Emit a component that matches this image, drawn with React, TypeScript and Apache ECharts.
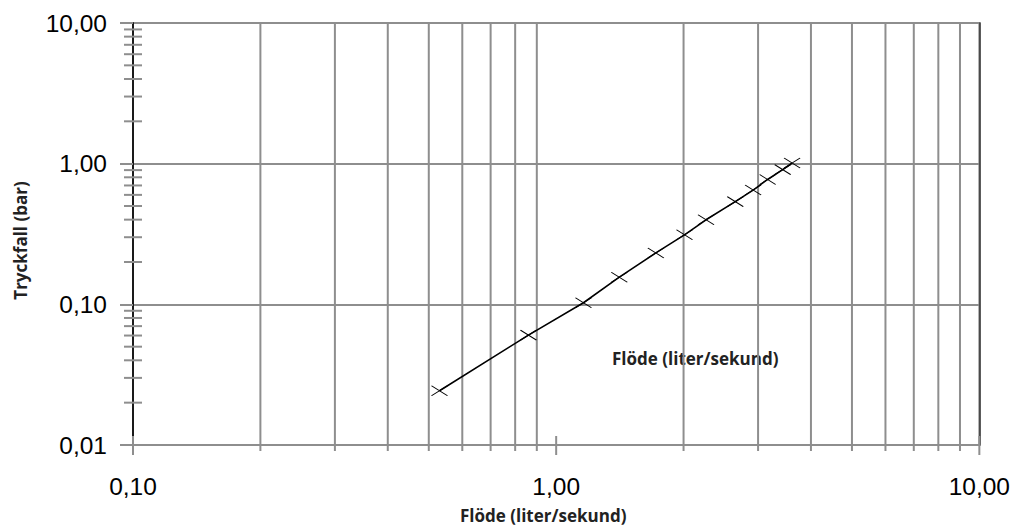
import React, { useEffect, useRef } from "react";
import * as echarts from "echarts";

// Data
const flowValues = [0.53, 0.86, 1.16, 1.41, 1.72, 2.01, 2.26, 2.65, 2.92, 3.16, 3.43, 3.61];
const pressureValues = [0.0243, 0.0604, 0.1026, 0.156, 0.232, 0.312, 0.399, 0.537, 0.649, 0.772, 0.907, 1.01];

// Axis ranges and tick positions
const xRange = [0.1, 10];
const yRange = [0.01, 10];
const xMinorGrid = [0.2, 0.3, 0.4, 0.5, 0.6, 0.7, 0.8, 0.9, 2, 3, 4, 5, 6, 7, 8, 9];
const xMajorTicks = [0.1, 1, 10];
const yMinorTicks = [
  0.02, 0.03, 0.04, 0.05, 0.06, 0.07, 0.08, 0.09,
  0.2, 0.3, 0.4, 0.5, 0.6, 0.7, 0.8, 0.9,
  2, 3, 4, 5, 6, 7, 8, 9,
];

const xTitle = "Flöde (liter/sekund)";
const yTitle = "Tryckfall (bar)";
const innerNote = "Flöde (liter/sekund)";

const GRID_GRAY = "#8e8e8e";
const fmt = (v: number) => Number(v).toFixed(2).replace(".", ",");

export default function App() {
  const ref = useRef<HTMLDivElement>(null);

  useEffect(() => {
    if (!ref.current) return;
    const chart = echarts.init(ref.current, undefined, { renderer: "svg" });

    const labelFont = {
      fontFamily: "'Liberation Sans', Arial, sans-serif",
      fontSize: 24.5,
      color: "#000",
    };
    const nameFont = {
      fontFamily: "'Open Sans', 'Noto Sans', sans-serif",
      fontWeight: "bold" as const,
      fontSize: 17,
      color: "#222",
    };

    chart.setOption({
      animation: false,
      backgroundColor: "#fff",
      grid: {
        left: 133,
        right: 32,
        top: 23,
        bottom: 82,
        show: true,
        borderColor: GRID_GRAY,
        borderWidth: 2,
        backgroundColor: "transparent",
      },
      xAxis: {
        type: "log",
        logBase: 10,
        min: xRange[0],
        max: xRange[1],
        name: xTitle,
        nameLocation: "middle",
        nameGap: 62,
        nameTextStyle: { ...nameFont, padding: [0, 26, 0, 0] },
        axisLine: { show: true, lineStyle: { color: GRID_GRAY, width: 2 } },
        axisTick: { show: false },
        axisLabel: { ...labelFont, margin: 29, formatter: fmt },
        splitLine: { show: false },
        minorTick: { show: false },
        minorSplitLine: { show: false },
      },
      yAxis: [
        {
          type: "log",
          logBase: 10,
          min: yRange[0],
          max: yRange[1],
          name: yTitle,
          nameLocation: "middle",
          nameRotate: 90,
          nameGap: 104,
          nameTextStyle: { ...nameFont, padding: [0, 13, 0, 0] },
          axisLine: { show: true, lineStyle: { color: "#1a1a1a", width: 2 } },
          axisTick: { show: true, length: 13, lineStyle: { color: GRID_GRAY, width: 2 } },
          axisLabel: { ...labelFont, margin: 26, formatter: fmt },
          splitLine: { show: true, lineStyle: { color: GRID_GRAY, width: 2 } },
          minorTick: { show: false },
        },
        {
          type: "log",
          logBase: 10,
          min: yRange[0],
          max: yRange[1],
          position: "right",
          axisLine: { show: true, lineStyle: { color: "#333", width: 1.5 } },
          axisTick: { show: false },
          axisLabel: { show: false },
          splitLine: { show: false },
        },
      ],
      graphic: [
        {
          type: "text",
          left: 612,
          top: 350,
          style: {
            text: innerNote,
            fill: "#222",
            font: "bold 17px 'Open Sans', 'Noto Sans', sans-serif",
          },
        },
      ],
      series: [
        {
          type: "custom",
          name: "xgrid",
          silent: true,
          z: 1,
          data: xMinorGrid.map((v) => [v, yRange[0]]),
          renderItem: (params: any, api: any) => {
            const x = api.value(0);
            const top = api.coord([x, yRange[1]]);
            const bot = api.coord([x, yRange[0]]);
            return {
              type: "line",
              shape: { x1: top[0], y1: top[1], x2: bot[0], y2: bot[1] + 6 },
              style: { stroke: GRID_GRAY, lineWidth: 2 },
            };
          },
        },
        {
          type: "custom",
          name: "xmajor",
          silent: true,
          z: 1,
          data: xMajorTicks.map((v) => [v, yRange[0]]),
          renderItem: (params: any, api: any) => {
            const x = api.value(0);
            const bot = api.coord([x, yRange[0]]);
            return {
              type: "line",
              shape: { x1: bot[0], y1: bot[1] - 9, x2: bot[0], y2: bot[1] + 10 },
              style: { stroke: GRID_GRAY, lineWidth: 2 },
            };
          },
        },
        {
          type: "custom",
          name: "yminor",
          silent: true,
          z: 3,
          data: yMinorTicks.map((v) => [xRange[0], v]),
          renderItem: (params: any, api: any) => {
            const p = api.coord([xRange[0], api.value(1)]);
            return {
              type: "line",
              shape: { x1: p[0] - 9, y1: p[1], x2: p[0] + 9, y2: p[1] },
              style: { stroke: GRID_GRAY, lineWidth: 2 },
            };
          },
        },
        {
          type: "line",
          name: "Tryckfall",
          z: 5,
          data: flowValues.map((f, i) => [f, pressureValues[i]]),
          symbol: "path://M0,0L16,10M16,0L0,10",
          symbolSize: [16, 10],
          showSymbol: true,
          itemStyle: { color: "transparent", borderColor: "#000", borderWidth: 1 },
          lineStyle: { color: "#000", width: 1.6 },
        },
      ],
    });

    return () => chart.dispose();
  }, []);

  return (
    <div
      ref={ref}
      style={{ position: "fixed", left: 0, top: 0, width: 1013, height: 529, background: "#fff" }}
    />
  );
}
